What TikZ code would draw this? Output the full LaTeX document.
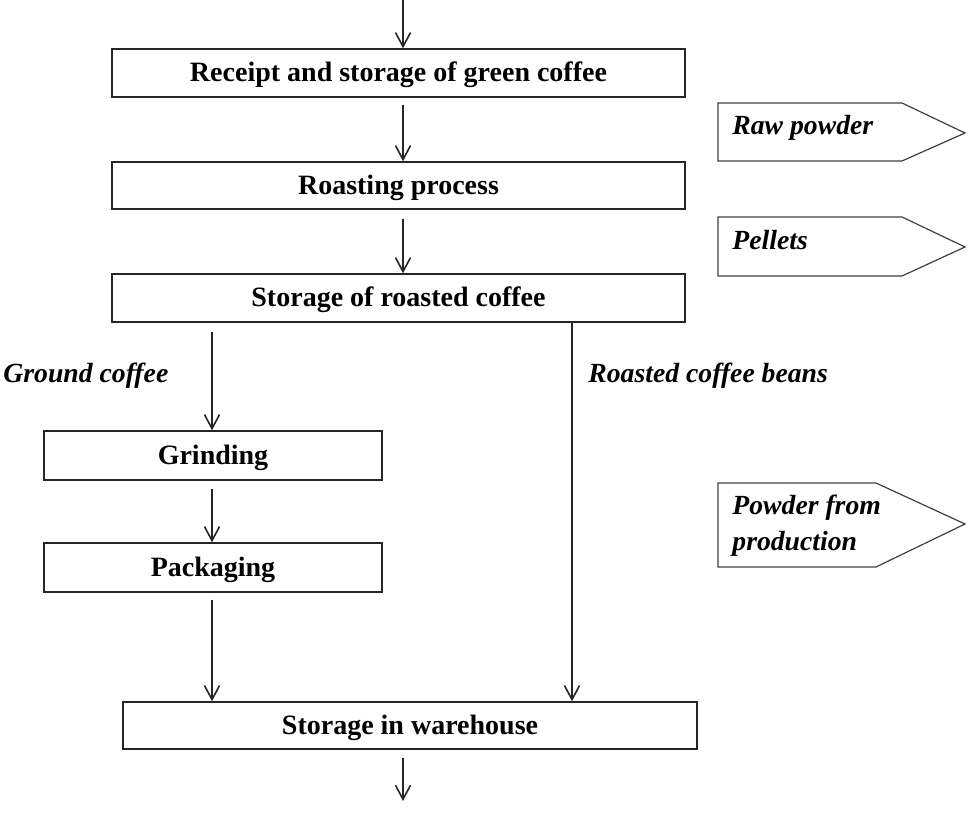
\documentclass[tikz,border=0pt]{standalone}
\usepackage{fontspec}
\setmainfont{Liberation Serif}
\usetikzlibrary{arrows.meta}
\begin{document}
\begin{tikzpicture}[x=0.5pt,y=-0.5pt,
  every node/.style={font=\fontsize{14}{18}\selectfont\bfseries},
  procbox/.style={draw=black!85,line width=0.7pt,inner sep=0pt,text height=11pt,text depth=2pt},
  arr/.style={draw=black!85,line width=0.8pt,-{Straight Barb[length=7pt,width=7.5pt,line width=0.8pt]}},
  lab/.style={font=\fontsize{13.85}{18}\selectfont\bfseries\itshape,anchor=base west,inner sep=0pt},
  tag/.style={draw=black!75,line width=0.6pt}]
\useasboundingbox (0,0) rectangle (969,817);
% process boxes
\node[procbox,minimum width=573*0.5pt,minimum height=48*0.5pt] (b1) at (398.5,73) {Receipt and storage of green coffee};
\node[procbox,minimum width=573*0.5pt,minimum height=47*0.5pt] (b2) at (398.5,185.5) {Roasting process};
\node[procbox,minimum width=573*0.5pt,minimum height=48*0.5pt] (b3) at (398.5,298) {Storage of roasted coffee};
\node[procbox,minimum width=338*0.5pt,minimum height=49*0.5pt] (g) at (213,455.5) {Grinding};
\node[procbox,minimum width=338*0.5pt,minimum height=49*0.5pt] (p) at (213,567.5) {Packaging};
\node[procbox,minimum width=574*0.5pt,minimum height=47*0.5pt] (w) at (410,725.5) {Storage in warehouse};
% column coordinates
\coordinate (cx) at (403,0);
\coordinate (lx) at (212,0);
\coordinate (rx) at (572,0);
\coordinate (bot) at (403,801);
% arrows
\draw[arr] (cx) -- (cx |- b1.north);
\draw[arr] ([yshift=-3.5pt]b1.south -| cx) -- (b2.north -| cx);
\draw[arr] ([yshift=-4.5pt]b2.south -| cx) -- (b3.north -| cx);
\draw[arr] ([yshift=-4.5pt]b3.south -| lx) -- (g.north -| lx);
\draw[arr] ([yshift=-4pt]g.south -| lx) -- (p.north -| lx);
\draw[arr] ([yshift=-3.5pt]p.south -| lx) -- (w.north -| lx);
\draw[arr] (b3.south -| rx) -- (w.north -| rx);
\draw[arr] ([yshift=-4pt]w.south -| cx) -- (bot);
% flow labels
\node[lab] (gc) at (3,383) {Ground coffee};
\node[lab] (rcb) at (588,383) {Roasted coffee beans};
% side tags
\draw[tag] (718,103) -- (902,103) -- (965,133) -- (902,161) -- (718,161) -- cycle;
\node[lab] (t1) at (732,135) {Raw powder};
\draw[tag] (718,217) -- (902,217) -- (965,247) -- (902,276) -- (718,276) -- cycle;
\node[lab] (t2) at (732,250) {Pellets};
\draw[tag] (718,483) -- (876,483) -- (965,524) -- (876,567) -- (718,567) -- cycle;
\node[lab] (t3) at (732,515) {Powder from};
\node[lab] (t4) at (732,551) {production};
\end{tikzpicture}
\end{document}
